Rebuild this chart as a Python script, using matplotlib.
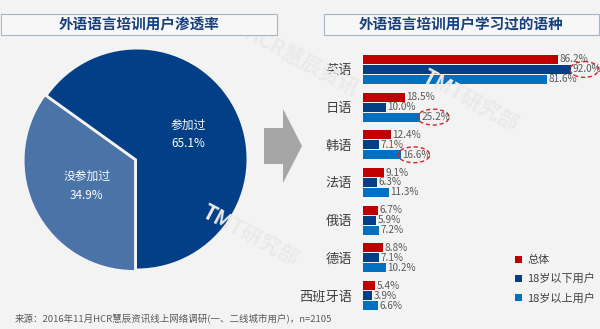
import numpy as np
import matplotlib.pyplot as plt
from matplotlib.patches import Ellipse, Rectangle, FancyArrow

plt.rcParams['font.family'] = ['Noto Sans CJK SC', 'DejaVu Sans']

# pie data
pie_labels = ['参加过', '没参加过']
pie_values = [65.1, 34.9]
pie_colors = ['#033F86', '#4A73A8']

# bar data
languages = ['英语', '日语', '韩语', '法语', '俄语', '德语', '西班牙语']
total = [86.2, 18.5, 12.4, 9.1, 6.7, 8.8, 5.4]
under18 = [92.0, 10.0, 7.1, 6.3, 5.9, 7.1, 3.9]
over18 = [81.6, 25.2, 16.6, 11.3, 7.2, 10.2, 6.6]
series_names = ['总体', '18岁以下用户', '18岁以上用户']
series_colors = ['#C00000', '#033F86', '#0070C0']
# highlighted labels: (language index, series index)
highlights = [(0, 1), (1, 2), (2, 2)]

W, H = 600, 329
fig = plt.figure(figsize=(W / 100, H / 100), dpi=100)
fig.patch.set_facecolor('#F3F3F3')

def fx(px):
    return px / W

def fy(py):
    return 1 - py / H

# faint watermarks
for x, y, s in [(300, 62, 'HCR慧辰资讯'), (470, 100, 'TMT研究部'), (250, 235, 'TMT研究部')]:
    fig.text(fx(x), fy(y), s, rotation=-28, fontsize=15, color='#EAEAEA',
             ha='center', va='center', weight='bold', zorder=0)

# title boxes
for x0, x1, title in [(1, 277, '外语语言培训用户渗透率'), (324, 599, '外语语言培训用户学习过的语种')]:
    fig.patches.append(Rectangle((fx(x0), fy(35)), fx(x1 - x0), 21 / H,
                                 transform=fig.transFigure, facecolor='#F7F7F7',
                                 edgecolor='#A9B4C8', linewidth=0.8))
    fig.text(fx((x0 + x1) / 2), fy(24.5), title, ha='center', va='center',
             fontsize=10.5, weight='bold', color='#17407F')

# pie
ax1 = fig.add_axes([fx(22), fy(274), 230 / W, 230 / H])
wedges, _ = ax1.pie(pie_values, colors=pie_colors, startangle=-90, counterclock=True,
                    explode=[0, 0.03], radius=1.0,
                    wedgeprops=dict(edgecolor='none'))
ax1.set_xlim(-1.05, 1.05)
ax1.set_ylim(-1.05, 1.05)
ax1.set_aspect('equal')
ax1.axis('off')
ax1.text(0.47, 0.31, pie_labels[0], color='white', fontsize=8.5, ha='center', va='center')
ax1.text(0.47, 0.14, f'{pie_values[0]}%', color='white', fontsize=8.5, ha='center', va='center')
ax1.text(-0.46, -0.16, pie_labels[1], color='white', fontsize=8.5, ha='center', va='center')
ax1.text(-0.46, -0.33, f'{pie_values[1]}%', color='white', fontsize=8.5, ha='center', va='center')

# arrow
fig.patches.append(FancyArrow(fx(264), fy(146), fx(19), 0, width=36 / H,
                              head_width=74 / H, head_length=fx(19),
                              length_includes_head=False, transform=fig.transFigure,
                              facecolor='#A6A6A6', edgecolor='none'))

# bars
ax2 = fig.add_axes([fx(363), fy(314.4), 226 / W, 263.8 / H])
ax2.set_facecolor('none')
y = np.arange(len(languages))
off = 0.265
h = 0.235
gap = 0.7
for k, (vals, col) in enumerate(zip([total, under18, over18], series_colors)):
    yy = y + (k - 1) * off
    ax2.barh(yy, vals, height=h, color=col, label=series_names[k])
    for i, v in enumerate(vals):
        ax2.text(v + gap, yy[i], f'{v:.1f}%', va='center', ha='left',
                 fontsize=7.2, color='#595959')
for i, k in highlights:
    vals = [total, under18, over18][k]
    wd = 12.6 if vals[i] > 90 else 14.0
    ax2.add_patch(Ellipse((vals[i] + gap + 5.2, y[i] + (k - 1) * off), wd, 0.42,
                          fill=False, edgecolor='#E02020', linestyle=(0, (3, 2)),
                          linewidth=1.0, clip_on=False))
ax2.set_xlim(0, 100)
ax2.set_ylim(6.5, -0.5)
ax2.set_yticks(y)
ax2.set_yticklabels(languages, fontsize=9.5, color='#404040')
ax2.tick_params(axis='y', length=0, pad=8)
ax2.set_xticks([])
for sp in ax2.spines.values():
    sp.set_visible(False)

leg = fig.legend(loc='upper left', bbox_to_anchor=(fx(505), fy(245)), frameon=False,
                 fontsize=8, handlelength=0.6, handleheight=0.6, handletextpad=0.5,
                 labelspacing=0.75, labelcolor='#404040')

fig.text(fx(15), fy(319), '来源：2016年11月HCR慧辰资讯线上网络调研(一、二线城市用户)，n=2105',
         fontsize=6.8, color='#595959', va='center', ha='left')

fig.savefig('out.png', dpi=100, facecolor=fig.get_facecolor())
